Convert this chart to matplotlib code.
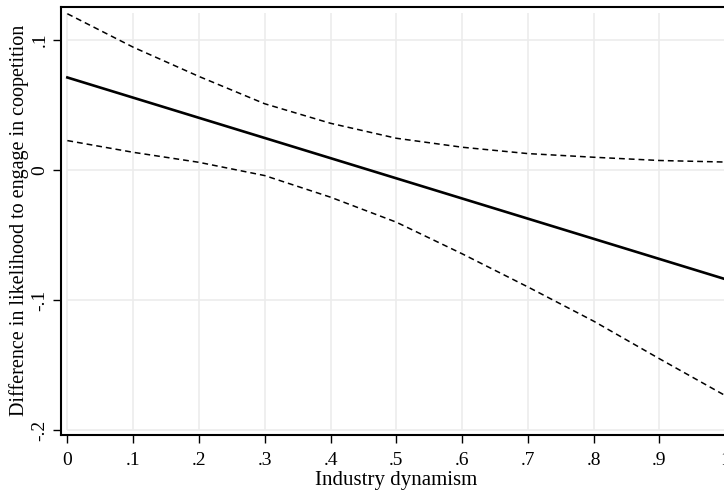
import numpy as np
import matplotlib.pyplot as plt

plt.rcParams['font.family'] = ['Liberation Serif', 'DejaVu Serif']

# marginal effect of industry dynamism with 95% CI
dyn = [0, .1, .2, .3, .4, .5, .6, .7, .8, .9, 1]
effect = [0.071, 0.0555, 0.040, 0.0245, 0.009, -0.0065, -0.022, -0.0375, -0.053, -0.0685, -0.084]
ci_hi = [0.1200, 0.0943, 0.0718, 0.0508, 0.0358, 0.0243, 0.0174, 0.0125, 0.0097, 0.0072, 0.0060]
ci_lo = [0.0225, 0.0135, 0.0058, -0.0044, -0.0210, -0.0402, -0.0645, -0.0900, -0.1163, -0.1452, -0.1735]

xticks = [0, .1, .2, .3, .4, .5, .6, .7, .8, .9, 1]
xlabels = ['0', '.1', '.2', '.3', '.4', '.5', '.6', '.7', '.8', '.9', '1']
yticks = [-.2, -.1, 0, .1]
ylabels = ['-.2', '-.1', '0', '.1']

fig = plt.figure(figsize=(7.24, 4.93), dpi=100)
ax = fig.add_axes([0.0843, 0.1176, 0.9262, 0.8688])

# stata-style grid inside the plot region
ax.vlines(xticks, -0.2, 0.1204, color='#ececec', lw=1.2, zorder=0)
ax.hlines(yticks, 0, 1, color='#ececec', lw=1.2, zorder=0)

ax.plot(dyn, effect, color='black', lw=1.9)
ax.plot(dyn, ci_hi, color='black', lw=1.1, dashes=(3.8, 2.6))
ax.plot(dyn, ci_lo, color='black', lw=1.1, dashes=(3.8, 2.6))

ax.set_xlim(-0.0096, 1.0096)
ax.set_ylim(-0.2038, 0.1254)
ax.set_xticks(xticks)
ax.set_xticklabels(xlabels)
ax.set_yticks(yticks)
ax.set_yticklabels(ylabels, rotation=90, va='center')
ax.tick_params(direction='out', length=6, width=1.0, labelsize=14)
ax.tick_params(axis='x', pad=6)
ax.tick_params(axis='y', pad=3)

for s in ['left', 'bottom', 'top', 'right']:
    ax.spines[s].set_linewidth(1.5)

ax.set_xlabel('Industry dynamism', fontsize=15, labelpad=2)
ax.set_ylabel('Difference in likelihood to engage in coopetition', fontsize=14.5, labelpad=2)

fig.savefig('out.png', dpi=100)
